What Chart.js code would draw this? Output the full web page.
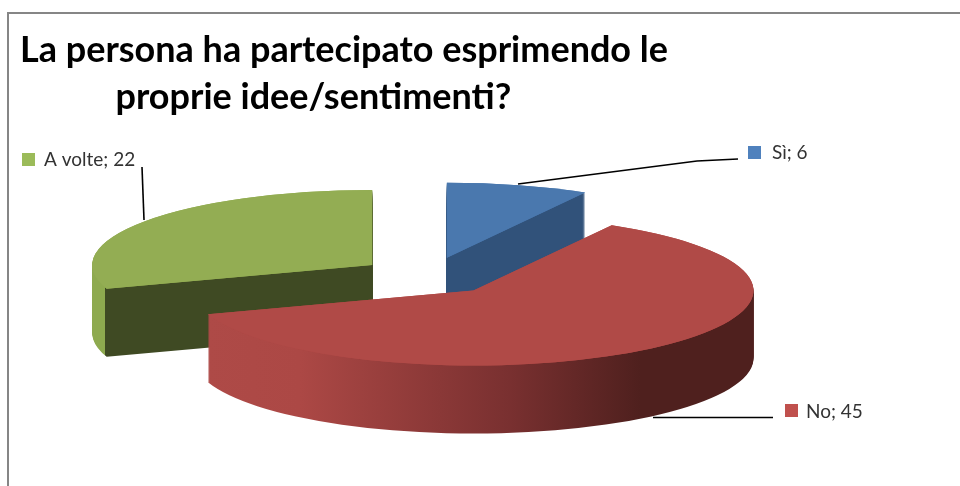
<!DOCTYPE html>
<html>
<head>
<meta charset="utf-8">
<style>
  html, body { margin: 0; padding: 0; background: #fff; overflow: hidden; }
  #frame { position: absolute; left: 7px; top: 12px; width: 960px; height: 486px;
           border-top: 2px solid #868686; border-left: 2px solid #868686; }
  canvas { position: absolute; left: 0; top: 0; }
</style>
<script src="https://cdn.jsdelivr.net/npm/chart.js@4"></script>
</head>
<body>
<div id="frame"></div>
<canvas id="pie-chart" width="960" height="486"></canvas>
<script>
const titleLines = ["La persona ha partecipato esprimendo le", "proprie idee/sentimenti?"];
const categories = ["Sì", "No", "A volte"];
const seriesValues = [6, 45, 22];
const topColors = ["#4A78AE", "#B04A47", "#93AD53"];
const swatchColors = ["#4F81BD", "#C0504D", "#9BBB59"];

// Where the tilted pie sits on the page
const pie = { cx: 429, cy: 276, radius: 280, squash: 0.268, depth: 68, explode: 70 };

// Wall shading per slice, stops are page x positions
const wallStops = [
  [[0, "#31527A"], [960, "#31527A"]],
  [[207, "#AE4A47"], [300, "#AC4845"], [510, "#793030"], [640, "#4F201E"], [960, "#4F201E"]],
  [[0, "#8EAA4F"], [105, "#8EAA4F"], [105, "#3F4A23"], [960, "#3F4A23"]],
];

// Label box and leader line for each slice
const labelBoxes = [
  { square: [748, 146], text: [772, 153], line: [[518, 184], [697, 161], [738, 159]] },
  { square: [785, 404], text: [806, 412], line: [[653, 417.5], [773, 417.5]] },
  { square: [22, 153], text: [44, 160], line: [[142, 167], [144, 220]] },
];

function drawSlice(ctx, arc, index) {
  const mid = (arc.startAngle + arc.endAngle) / 2;
  const px = pie.cx + Math.cos(mid) * pie.explode;
  const py = pie.cy + Math.sin(mid) * pie.explode * pie.squash;
  const shift = px - arc.x;
  const baseOptions = arc.options;

  const wall = ctx.createLinearGradient(-shift, 0, 960 - shift, 0);
  wallStops[index].forEach(([x, color]) => wall.addColorStop(x / 960, color));

  // layer -1 paints the top a second time so the wall colour doesn't fringe its edges
  for (let layer = pie.depth; layer >= -1; layer--) {
    ctx.save();
    ctx.translate(px, py + Math.max(layer, 0));
    ctx.scale(1, pie.squash);
    ctx.translate(-arc.x, -arc.y);
    arc.options = Object.assign({}, baseOptions, {
      backgroundColor: layer <= 0 ? topColors[index] : wall,
    });
    arc.draw(ctx);
    ctx.restore();
  }
  arc.options = baseOptions;
}

const tiltedPie = {
  id: "tiltedPie",
  afterLayout(chart) {
    // the title is centred over the left part of the page
    chart.titleBlock.left = 0;
    chart.titleBlock.right = 688;
  },
  beforeDatasetsDraw(chart) {
    const ctx = chart.ctx;
    const arcs = chart.getDatasetMeta(0).data;
    [0, 2, 1].forEach((i) => drawSlice(ctx, arcs[i], i));
    return false;
  },
  afterDraw(chart) {
    const ctx = chart.ctx;
    ctx.save();
    ctx.strokeStyle = "#000";
    ctx.lineWidth = 1.6;
    labelBoxes.forEach((box, i) => {
      ctx.beginPath();
      box.line.forEach(([x, y], k) => (k ? ctx.lineTo(x, y) : ctx.moveTo(x, y)));
      ctx.stroke();

      ctx.fillStyle = swatchColors[i];
      ctx.fillRect(box.square[0], box.square[1], 13, 13);

      ctx.fillStyle = "#333";
      ctx.font = "19px Lato";
      ctx.textBaseline = "middle";
      ctx.fillText(categories[i] + "; " + seriesValues[i], box.text[0], box.text[1]);
    });
    ctx.restore();
  },
};

new Chart(document.getElementById("pie-chart"), {
  type: "pie",
  data: {
    labels: categories,
    datasets: [
      {
        data: seriesValues,
        backgroundColor: topColors,
        borderWidth: 0,
        hoverOffset: 0,
      },
    ],
  },
  options: {
    responsive: false,
    animation: false,
    radius: pie.radius,
    events: [],
    plugins: {
      legend: { display: false },
      tooltip: { enabled: false },
      title: {
        display: true,
        // trailing spaces push the second line left, it isn't truly centred in the original
        text: [titleLines[0], titleLines[1] + " ".repeat(7)],
        color: "#000",
        align: "center",
        padding: { top: 26, bottom: 0 },
        font: { family: "Lato", size: 36, weight: "bold", lineHeight: 1.33 },
      },
    },
  },
  plugins: [tiltedPie],
});
</script>
</body>
</html>
